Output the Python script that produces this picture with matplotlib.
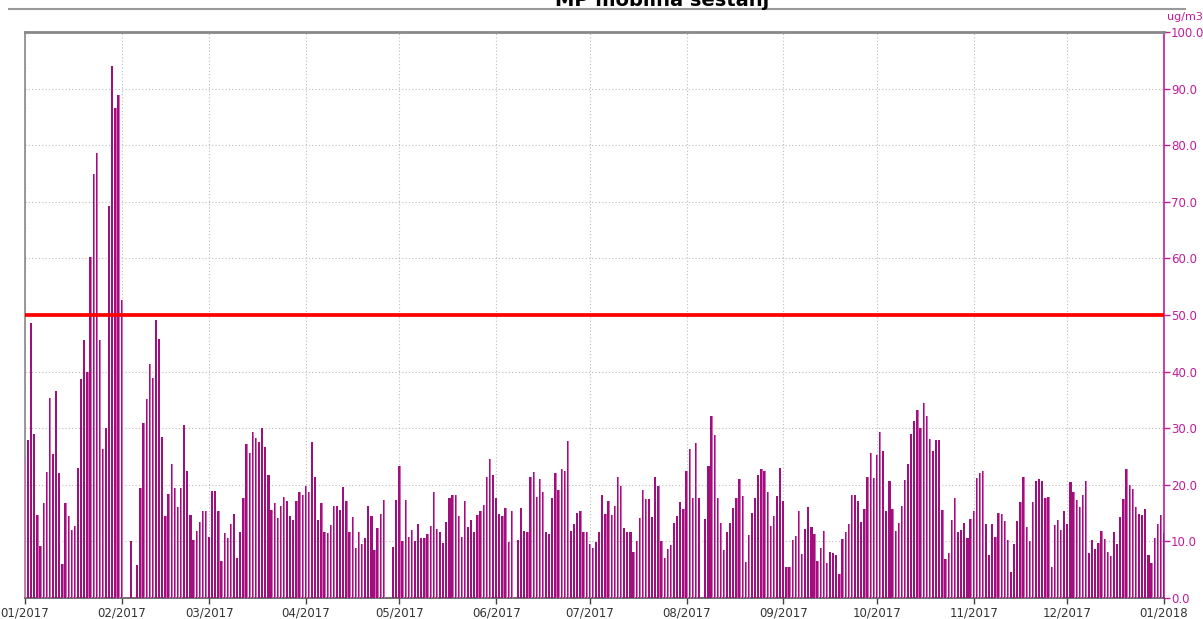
import matplotlib
matplotlib.use('Agg')
import matplotlib.pyplot as plt
import matplotlib.dates as mdates
from matplotlib.lines import Line2D
from matplotlib.ticker import FormatStrFormatter
import numpy as np
import pandas as pd

# daily mean PM10 (ug/m3), None = no data
jan = [25, 28, 48.5, 29, 14.6, 9.2, 16.8, 22.3, 35.3, 25.5, 36.5, 22, 6, 16.8, 14.4,
       12, 12.8, 23, 38.7, 45.6, 40, 60.3, 75, 78.7, 45.6, 26.3, 30, 69.3, 94, 86.5, 88.8]
feb = [52.6, None, None, 10, None, 5.8, 19.4, 31, 35.2, 41.3, 38.8, 49.1, 45.7, 28.5,
       14.4, 18.4, 23.7, 19.5, 16.1, 19.4, 30.5, 22.4, 14.6, 10.3, 11.8, 13.5, 15.4, 15.4]
mar = [10.7, 18.9, 18.9, 15.3, 6.6, 11.4, 10.6, 13, 14.9, 7.1, 11.6, 17.6, 27.2, 25.7,
       29.3, 28.2, 27.5, 30, 26.7, 21.8, 15.6, 16.7, 14.1, 16.3, 17.8, 17.2, 14.4, 13.7,
       17.2, 18.7, 18.2]
apr = [19.8, 18.8, 27.5, 21.4, 13.7, 16.7, 11.6, 11.4, 12.9, 16.2, 16.2, 15.6, 19.6,
       17.2, 11.7, 14.3, 8.9, 11.6, 9.6, 10.6, 16.3, 14.4, 8.4, 12.4, 14.9, 17.3, None,
       None, 9, 17.3]
may = [23.4, 10.1, 17.4, 10.7, 12.1, 10.1, 13.1, 10.6, 10.6, 11.3, 12.7, 18.7, 12.2,
       11.6, 9.8, 13.4, 17.6, 18.2, 18.2, 14.5, 10.7, 17.1, 12.5, 13.8, 11.7, 14.6, 15.3,
       16.5, 21.3, 24.6, 21.8]
jun = [17.6, 14.9, 14.5, 15.9, 9.9, 15.4, None, 10.2, 15.9, 11.8, 11.6, 21.3, 22.3,
       17.8, 21.1, 18.8, 11.6, 11.3, 17.6, 22, 19, 22.8, 22.4, 27.7, 11.9, 13.1, 15.1,
       15.4, 11.6, 11.6]
jul = [9.6, 8.9, 9.9, 11.7, 18.2, 14.9, 17.2, 14.7, 16.2, 21.4, 19.8, 12.4, 11.7, 11.6,
       8.1, 10.1, 14.1, 19, 17.5, 17.5, 14.3, 21.4, 19.7, 10.1, 7, 8.6, 9.4, 13.2, 14.4,
       16.9, 15.7]
aug = [22.5, 26.3, 17.7, 27.3, 17.6, None, 13.9, 23.4, 32.2, 28.8, 17.7, 13.2, 8.4,
       11.6, 13.2, 15.9, 17.7, 21, 18, 6.4, 11.1, 15, 17.6, 21.7, 22.8, 22.5, 18.7, 12.7,
       14.5, 18, 23]
sep = [17.2, 5.4, 5.4, 10.3, 10.9, 15.4, 7.8, 12.2, 16, 12.5, 11.3, 6.6, 8.8, 11.9, 6.2,
       8.1, 8, 7.6, 4.3, 10.4, 11.7, 13.1, 18.2, 18.2, 17.1, 13.5, 15.7, 21.4, 25.7, 21.2]
oct_ = [25.3, 29.3, 26, 15.3, 20.7, 15.7, 11.9, 13.3, 16.3, 20.9, 23.7, 28.9, 31.3,
        33.3, 30, 34.4, 32.2, 28.1, 25.9, 27.9, 28, 15.6, 6.9, 7.9, 13.7, 17.7, 11.7,
        12.1, 13.2, 10.6, 14]
nov = [15.4, 21.2, 22, 22.5, 13.1, 7.6, 13, 10.8, 15, 14.8, 13.6, 10.2, 4.6, 9.6, 13.6,
       17, 21.3, 12.6, 10, 17, 20.7, 21.1, 20.7, 17.7, 17.9, 5.4, 12.9, 13.7, 12.1, 15.4]
dec = [13, 20.5, 18.7, 17.4, 16, 18.2, 20.7, 8, 10.2, 8.7, 9.8, 11.8, 10.4, 8.1, 7.5,
       11.6, 9.6, 14.3, 17.5, 22.8, 19.9, 19.3, 16, 14.9, 14.6, 15.8, 7.6, 6.2, 10.6, 13,
       14.6]
jan_2018 = [11.4]

limit_value = 50
title = "MP mobilna sestanj"
unit = "ug/m3"

DARK = '#A0107C'
LIGHT = '#D968BC'
MAG = '#C01C9C'

all_vals = jan + feb + mar + apr + may + jun + jul + aug + sep + oct_ + nov + dec + jan_2018
values = np.array([np.nan if v is None else v for v in all_vals], dtype=float)
days = pd.date_range('2017-01-01', periods=len(values), freq='D')

fig = plt.figure(figsize=(12.03, 6.19), dpi=100)
ax = fig.add_axes([25 / 1203, 1 - 598 / 619, (1164 - 25) / 1203, (598 - 32) / 619])

# dark bar with a lighter right edge, like the original 3D-ish bars
ax.bar(days.to_pydatetime(), values, width=0.72, color=DARK, zorder=3)
ax.bar((days + pd.Timedelta(hours=6)).to_pydatetime(), values, width=0.2,
       color=LIGHT, zorder=4)
ax.axhline(limit_value, color='#FF0000', lw=2.7, zorder=5)

ax.set_xlim(days[0], pd.Timestamp('2018-01-01'))
ax.set_ylim(0, 100)

ax.xaxis.set_major_locator(mdates.MonthLocator())
ax.xaxis.set_major_formatter(mdates.DateFormatter('%m/%Y'))
ax.yaxis.tick_right()
ax.set_yticks(np.arange(0, 101, 10))
ax.yaxis.set_major_formatter(FormatStrFormatter('%.1f'))
ax.tick_params(axis='y', colors=MAG, labelsize=8.5, length=4, width=1, pad=1)
ax.tick_params(axis='x', colors='#444444', labelsize=8.5, length=4, width=1, pad=2)
for lab in ax.get_xticklabels():
    lab.set_color('#333333')

ax.grid(True, color='#BBBBBB', linestyle=(0, (1, 2)), lw=0.8)
ax.set_axisbelow(True)

ax.spines['top'].set_color('#888888')
ax.spines['top'].set_linewidth(2)
ax.spines['left'].set_color('#888888')
ax.spines['left'].set_linewidth(1.2)
ax.spines['right'].set_color(MAG)
ax.spines['right'].set_linewidth(1.2)
ax.spines['bottom'].set_color('#555555')
ax.spines['bottom'].set_linewidth(1.2)

fig.text(1185 / 1203, 1 - 17 / 619, unit, color=MAG, fontsize=8, ha='center', va='center')
fig.text(662 / 1203, 1.0, title, fontsize=14, fontweight='bold', ha='center', va='center')
fig.add_artist(Line2D([9 / 1203, 1185 / 1203], [1 - 9 / 619] * 2, color='#999999', lw=1.5))

fig.savefig('out.png', dpi=100)
